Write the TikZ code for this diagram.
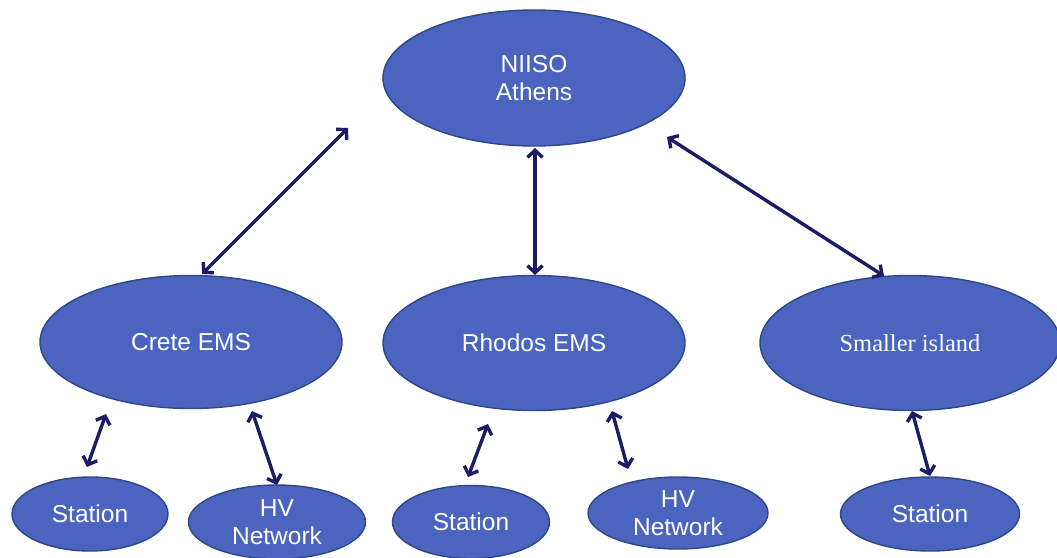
\documentclass[tikz,border=0pt]{standalone}
\usepackage{fontspec}
\setmainfont{Liberation Sans}
\newfontfamily\timesfont{Liberation Serif}
\usetikzlibrary{shapes.geometric,arrows.meta}
\definecolor{ellfill}{HTML}{4A64C0}
\definecolor{elldraw}{HTML}{2E4785}
\definecolor{arr}{HTML}{1C1C66}
\tikzset{
  ell/.style={ellipse, fill=ellfill, draw=elldraw, line width=1.4pt, inner sep=0pt,
    text=white, font=\fontsize{24.5}{28.5}\selectfont, align=center},
  link/.style={draw=arr, line width=3.4pt, {Straight Barb[length=7pt,width=15pt]}-{Straight Barb[length=7pt,width=15pt]}}
}
\begin{document}
\begin{tikzpicture}[x=1pt,y=-1pt]
\useasboundingbox (0,0) rectangle (1057,557);
% ellipses
\node[ell, minimum width=302pt, minimum height=136pt] (niiso) at (534,78) {NIISO\\Athens};
\node[ell, minimum width=302pt, minimum height=133pt] (crete) at (191,342) {Crete EMS};
\node[ell, minimum width=302pt, minimum height=135pt] (rhodos) at (534,343) {Rhodos EMS};
\node[ell, minimum width=300pt, minimum height=135pt, font=\timesfont\fontsize{24.5}{28.5}\selectfont] (small) at (910,343) {Smaller island};
\node[ell, minimum width=156pt, minimum height=74pt] (st1) at (90,514) {Station};
\node[ell, minimum width=177pt, minimum height=74pt] (hv1) at (277,522) {HV\\Network};
\node[ell, minimum width=157pt, minimum height=73pt] (st2) at (471,522) {Station};
\node[ell, minimum width=180pt, minimum height=72pt] (hv2) at (678,513) {HV\\Network};
\node[ell, minimum width=179pt, minimum height=74pt] (st3) at (930,514) {Station};
% arrow end points
\coordinate (a1) at (348,128);
\coordinate (a2) at (202,274);
\coordinate (b1) at (535,148);
\coordinate (b2) at (535,275);
\coordinate (c1) at (667,137);
\coordinate (c2) at (884,276);
\coordinate (d1) at (106,414);
\coordinate (d2) at (87,467);
\coordinate (e1) at (252,411);
\coordinate (e2) at (277,485);
\coordinate (f1) at (488,424);
\coordinate (f2) at (468,477);
\coordinate (g1) at (612,411);
\coordinate (g2) at (628,469);
\coordinate (h1) at (912,411);
\coordinate (h2) at (930,476);
\draw[link] (a1) -- (a2);
\draw[link] (b1) -- (b2);
\draw[link] (c1) -- (c2);
\draw[link] (d1) -- (d2);
\draw[link] (e1) -- (e2);
\draw[link] (f1) -- (f2);
\draw[link] (g1) -- (g2);
\draw[link] (h1) -- (h2);
\end{tikzpicture}
\end{document}
